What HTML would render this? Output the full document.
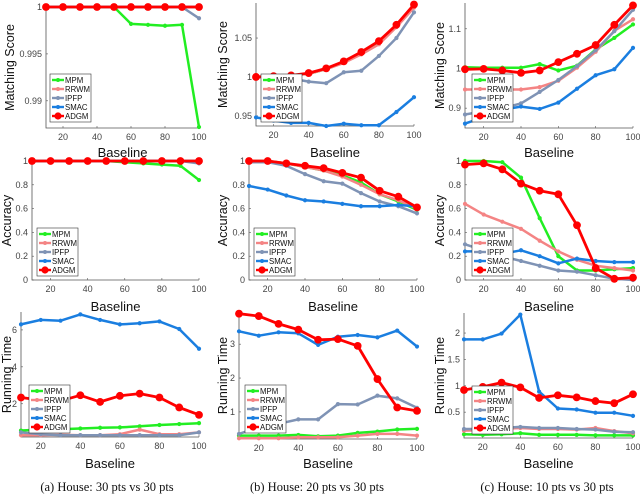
<!DOCTYPE html>
<html><head><meta charset="utf-8"><style>
html,body{margin:0;padding:0;background:#fff;}
svg{display:block;font-family:"Liberation Sans",sans-serif;}
</style></head><body>
<svg id="fig" width="640" height="495" viewBox="0 0 640 495" xmlns="http://www.w3.org/2000/svg"></svg>
<script>
const xs = [10,20,30,40,50,60,70,80,90,100];
const methods = ["MPM","RRWM","IPFP","SMAC","ADGM"];
// Row 1: matching score
const r1c1_MPM  = [1,1,1,1,1,0.9982,0.9981,0.998,0.9981,0.9872];
const r1c1_RRWM = [1,1,1,1,1,1,1,1,1,1];
const r1c1_IPFP = [1,1,1,1,1,1,1,1,1,0.9988];
const r1c1_SMAC = [1,1,1,1,1,1,1,1,1,1];
const r1c1_ADGM = [1,1,1,1,1,1,1,1,1,1];
const r1c2_MPM  = [1.0,1.0,1.002,1.004,1.01,1.019,1.03,1.043,1.065,1.09];
const r1c2_RRWM = [1.0,1.0,1.002,1.004,1.01,1.018,1.029,1.042,1.064,1.089];
const r1c2_IPFP = [1.0,0.999,0.998,0.994,0.992,1.006,1.008,1.027,1.05,1.083];
const r1c2_SMAC = [0.948,0.944,0.941,0.941,0.937,0.94,0.938,0.938,0.955,0.974];
const r1c2_ADGM = [1.0,1.001,1.002,1.005,1.011,1.02,1.032,1.046,1.067,1.093];
const r1c3_MPM  = [1.003,1.002,1.002,1.002,1.011,0.995,1.007,1.048,1.077,1.111];
const r1c3_RRWM = [0.947,0.947,0.947,0.947,0.953,0.969,1.002,1.042,1.095,1.124];
const r1c3_IPFP = [0.884,0.892,0.9,0.912,0.941,0.971,1.006,1.046,1.094,1.148];
const r1c3_SMAC = [0.861,0.877,0.896,0.904,0.898,0.914,0.949,0.983,0.998,1.052];
const r1c3_ADGM = [0.998,0.999,0.995,0.989,0.995,1.016,1.037,1.059,1.11,1.159];
// Row 2: accuracy
const r2c1_MPM  = [1,1,1,1,1,0.99,0.98,0.97,0.96,0.84];
const r2c1_RRWM = [1,1,1,1,1,1,1,1,1,1];
const r2c1_IPFP = [1,1,1,1,1,1,1,1,1,0.98];
const r2c1_SMAC = [1,1,1,1,1,1,1,1,1,1];
const r2c1_ADGM = [1,1,1,1,1,1,1,1,1,1];
const r2c2_MPM  = [1,1,0.98,0.95,0.92,0.88,0.82,0.72,0.66,0.59];
const r2c2_RRWM = [1,1,0.98,0.95,0.92,0.87,0.8,0.72,0.67,0.6];
const r2c2_IPFP = [0.99,0.99,0.96,0.89,0.83,0.81,0.73,0.66,0.62,0.56];
const r2c2_SMAC = [0.79,0.76,0.71,0.67,0.66,0.64,0.62,0.62,0.63,0.62];
const r2c2_ADGM = [1,1,0.98,0.96,0.94,0.9,0.86,0.75,0.7,0.61];
const r2c3_MPM  = [1,1,0.99,0.86,0.52,0.2,0.08,0.08,0.09,0.1];
const r2c3_RRWM = [0.64,0.55,0.49,0.43,0.33,0.24,0.17,0.12,0.1,0.08];
const r2c3_IPFP = [0.3,0.25,0.2,0.16,0.12,0.08,0.07,0.04,0.01,0.0];
const r2c3_SMAC = [0.24,0.24,0.22,0.25,0.2,0.14,0.18,0.16,0.15,0.15];
const r2c3_ADGM = [0.97,0.98,0.93,0.81,0.75,0.72,0.46,0.1,0.01,0.02];
// Row 3: running time
const r3c1_MPM  = [0.55,0.6,0.62,0.66,0.7,0.72,0.78,0.85,0.9,0.95];
const r3c1_RRWM = [0.3,0.3,0.32,0.3,0.3,0.35,0.6,0.35,0.35,0.45];
const r3c1_IPFP = [0.45,0.35,0.3,0.3,0.3,0.3,0.3,0.3,0.3,0.45];
const r3c1_SMAC = [6.3,6.54,6.5,6.84,6.54,6.3,6.36,6.46,6.05,4.98];
const r3c1_ADGM = [2.34,2.2,2.16,2.46,2.1,2.43,2.55,2.34,1.8,1.4];
const r3c2_MPM  = [0.3,0.3,0.3,0.32,0.28,0.3,0.38,0.42,0.48,0.5];
const r3c2_RRWM = [0.22,0.22,0.22,0.25,0.25,0.25,0.3,0.35,0.35,0.3];
const r3c2_IPFP = [0.35,0.55,0.65,0.78,0.78,1.23,1.22,1.48,1.4,1.12];
const r3c2_SMAC = [3.38,3.25,3.35,3.32,2.98,3.22,3.27,3.2,3.4,2.93];
const r3c2_ADGM = [3.9,3.83,3.6,3.43,3.13,3.15,2.95,1.97,1.13,1.03];
const r3c3_MPM  = [0.08,0.07,0.08,0.1,0.07,0.07,0.07,0.06,0.06,0.06];
const r3c3_RRWM = [0.15,0.16,0.18,0.2,0.18,0.18,0.17,0.2,0.14,0.1];
const r3c3_IPFP = [0.18,0.18,0.2,0.22,0.2,0.2,0.18,0.17,0.13,0.12];
const r3c3_SMAC = [1.88,1.88,1.99,2.35,0.89,0.57,0.55,0.49,0.49,0.43];
const r3c3_ADGM = [0.92,0.98,1.06,0.97,0.77,0.82,0.78,0.71,0.67,0.84];
// tick labels
const xTicks = [20,40,60,80,100];
const r1c1_yTicks = [0.99,0.995,1];
const r1c2_yTicks = [0.95,1,1.05];
const r1c3_yTicks = [0.9,1,1.1];
const r2_yTicks = [0,0.2,0.4,0.6,0.8,1];
const r3c1_yTicks = [2,4,6];
const r3c2_yTicks = [1,2,3];
const r3c3_yTicks = [0.5,1,1.5,2];
const captions = ["(a) House: 30 pts vs 30 pts","(b) House: 20 pts vs 30 pts","(c) House: 10 pts vs 30 pts"];

const colors = {MPM:"#22ee22",RRWM:"#f48484",IPFP:"#7f93b5",SMAC:"#1a7ee0",ADGM:"#ff0000"};
const NS="http://www.w3.org/2000/svg";
const svg=document.getElementById('fig');
function mk(tag,attrs,parent){const e=document.createElementNS(NS,tag);for(const k in attrs)e.setAttribute(k,attrs[k]);(parent||svg).appendChild(e);return e;}

const panels=[
 {id:"r1c1",x0:46,x1:199,y0:7,y1:128,ymin:0.9871,ymax:1.0,yt:r1c1_yTicks,yl:"Matching Score",ylx:10,d:[r1c1_MPM,r1c1_RRWM,r1c1_IPFP,r1c1_SMAC,r1c1_ADGM],lg:[50,74],xlab:152},
 {id:"r1c2",x0:256,x1:414,y0:3,y1:126,ymin:0.937,ymax:1.095,yt:r1c2_yTicks,yl:"Matching Score",ylx:223,d:[r1c2_MPM,r1c2_RRWM,r1c2_IPFP,r1c2_SMAC,r1c2_ADGM],lg:[261,74],xlab:152},
 {id:"r1c3",x0:465,x1:633,y0:3,y1:128,ymin:0.85,ymax:1.165,yt:r1c3_yTicks,yl:"Matching Score",ylx:440,d:[r1c3_MPM,r1c3_RRWM,r1c3_IPFP,r1c3_SMAC,r1c3_ADGM],lg:[472,74],xlab:152},
 {id:"r2c1",x0:32,x1:199,y0:161,y1:280,ymin:0,ymax:1,yt:r2_yTicks,yl:"Accuracy",ylx:7,d:[r2c1_MPM,r2c1_RRWM,r2c1_IPFP,r2c1_SMAC,r2c1_ADGM],lg:[37,228],xlab:306},
 {id:"r2c2",x0:249,x1:417,y0:161,y1:280,ymin:0,ymax:1,yt:r2_yTicks,yl:"Accuracy",ylx:223,d:[r2c2_MPM,r2c2_RRWM,r2c2_IPFP,r2c2_SMAC,r2c2_ADGM],lg:[254,228],xlab:306},
 {id:"r2c3",x0:465,x1:633,y0:161,y1:280,ymin:0,ymax:1,yt:r2_yTicks,yl:"Accuracy",ylx:440,d:[r2c3_MPM,r2c3_RRWM,r2c3_IPFP,r2c3_SMAC,r2c3_ADGM],lg:[472,228],xlab:306},
 {id:"r3c1",x0:21,x1:199,y0:312,y1:437,ymin:0.2,ymax:6.97,yt:r3c1_yTicks,yl:"Running Time",ylx:7,d:[r3c1_MPM,r3c1_RRWM,r3c1_IPFP,r3c1_SMAC,r3c1_ADGM],lg:[29,385],xlab:463},
 {id:"r3c2",x0:239,x1:417,y0:312,y1:439,ymin:0.2,ymax:3.95,yt:r3c2_yTicks,yl:"Running Time",ylx:223,d:[r3c2_MPM,r3c2_RRWM,r3c2_IPFP,r3c2_SMAC,r3c2_ADGM],lg:[245,385],xlab:463},
 {id:"r3c3",x0:464,x1:633,y0:313,y1:438,ymin:0.01,ymax:2.38,yt:r3c3_yTicks,yl:"Running Time",ylx:440,d:[r3c3_MPM,r3c3_RRWM,r3c3_IPFP,r3c3_SMAC,r3c3_ADGM],lg:[472,386],xlab:463}
];

panels.forEach(p=>{
 const g=mk('g',{});
 
 
 const sx=v=>p.x0+(v-10)/90*(p.x1-p.x0);
 const sy=v=>p.y1-(v-p.ymin)/(p.ymax-p.ymin)*(p.y1-p.y0);
 const ax=mk('path',{d:`M${p.x0},${p.y0}V${p.y1}H${p.x1}`,stroke:"#555",fill:"none","stroke-width":0.8},g);
 
 
 xTicks.forEach(t=>{
  const x=sx(t);
  mk('line',{x1:x,x2:x,y1:p.y1,y2:p.y1-2,stroke:"#555","stroke-width":0.6},g);
  const tx=mk('text',{x:x,y:p.y1+12,"font-size":9,fill:"#444","text-anchor":"middle"},g);
  tx.textContent=t;
  
  
 });
 p.yt.forEach(t=>{
  const y=sy(t);
  mk('line',{x1:p.x0,x2:p.x0+2,y1:y,y2:y,stroke:"#555","stroke-width":0.6},g);
  const tx=mk('text',{x:p.x0-4,y:y+3,"font-size":9,fill:"#444","text-anchor":"end"},g);
  tx.textContent=t;
  
  
 });
 const xl=mk('text',{x:(p.x0+p.x1)/2,y:p.xlab+5,"font-size":13,fill:"#111","text-anchor":"middle"},g);
 xl.textContent="Baseline";
 
 
 const cy=(p.y0+p.y1)/2;
 const yl=mk('text',{x:p.ylx+4,y:cy,"font-size":12.5,fill:"#111","text-anchor":"middle",transform:`rotate(-90 ${p.ylx+4} ${cy})`},g);
 yl.textContent=p.yl;
 
 
 methods.forEach((m,i)=>{
  const vals=p.d[i];
  const pts=vals.map((v,j)=>sx(xs[j]).toFixed(1)+","+sy(v).toFixed(1)).join(" ");
  const ln=mk('polyline',{points:pts,fill:"none",stroke:colors[m],"stroke-width":m==="ADGM"?2.8:2.5,"stroke-linejoin":"round"},g);
  
  
  vals.forEach((v,j)=>{
   const c=mk('circle',{cx:sx(xs[j]),cy:sy(v),r:m==="ADGM"?3.9:2.1,fill:colors[m]},g);
   
   
  });
 });
 const [lx,ly]=p.lg;
 const lg=mk('g',{},g);
 
 
 mk('rect',{x:lx,y:ly,width:41,height:48,fill:"#fff",stroke:"#333","stroke-width":0.6},lg);
 methods.forEach((m,i)=>{
  const y=ly+6+i*9;
  const e=mk('g',{},lg);
  
  
  mk('line',{x1:lx+2,x2:lx+14,y1:y,y2:y,stroke:colors[m],"stroke-width":2.4},e);
  mk('circle',{cx:lx+8,cy:y,r:m==="ADGM"?3.6:2,fill:colors[m]},e);
  const t=mk('text',{x:lx+15,y:y+3,"font-size":7.8,fill:"#111"},e);
  t.textContent=m;
 });
});
const cxs=[107,317,547];
captions.forEach((c,i)=>{
 const t=mk('text',{x:cxs[i],y:491,"font-size":12.5,"font-family":"'Liberation Serif',serif",fill:"#111","text-anchor":"middle"});
 t.textContent=c;
 
 
});
</script>
</body></html>
